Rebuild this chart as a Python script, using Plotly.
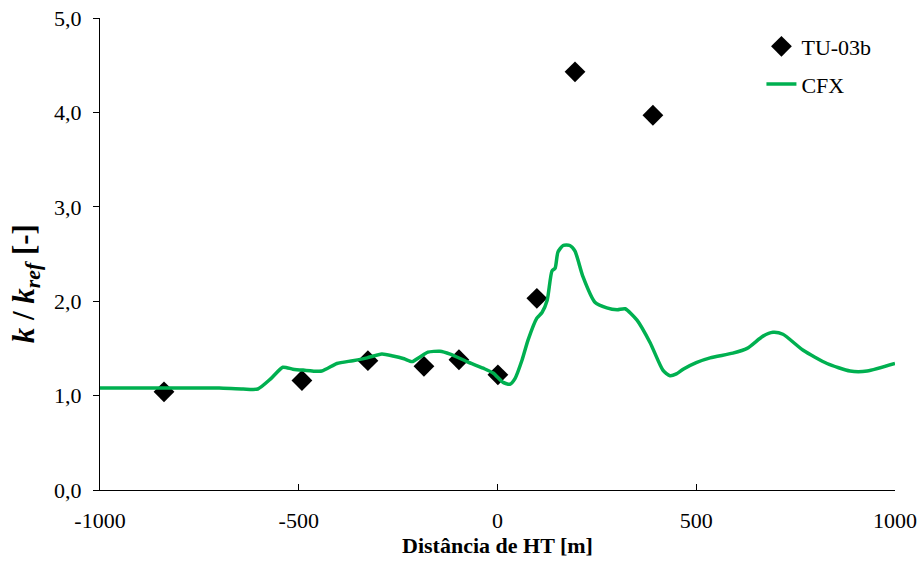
import plotly.graph_objects as go

# Measured turbulent kinetic energy ratio (TU-03b)
meas_x = [-839, -492, -326, -185, -97, 1, 99, 195, 391]
meas_y = [1.04, 1.16, 1.37, 1.31, 1.38, 1.22, 2.03, 4.43, 3.97]

# CFX simulated profile
cfx_x = [-1000, -900, -800, -741, -700, -640, -603, -570, -540, -515, -489, -442, -404,
         -364, -328, -291, -263, -235, -215, -195, -175, -145, -119, -77, -36, -11, 14,
         31, 44, 62, 77, 99, 112, 125, 137, 145, 152, 165, 182, 195, 215, 245, 275,
         301, 321, 351, 384, 416, 434, 450, 467, 500, 535, 592, 628, 668, 693, 718,
         769, 829, 887, 930, 1000]
cfx_y = [1.08, 1.08, 1.08, 1.08, 1.08, 1.07, 1.07, 1.18, 1.30, 1.28, 1.27, 1.26, 1.34,
         1.37, 1.40, 1.44, 1.42, 1.39, 1.36, 1.41, 1.46, 1.47, 1.44, 1.36, 1.29, 1.24,
         1.14, 1.12, 1.18, 1.38, 1.59, 1.82, 1.88, 2.01, 2.32, 2.35, 2.52, 2.59, 2.59,
         2.53, 2.26, 1.99, 1.93, 1.91, 1.92, 1.80, 1.56, 1.27, 1.21, 1.23, 1.28, 1.35,
         1.40, 1.45, 1.50, 1.63, 1.67, 1.65, 1.48, 1.34, 1.26, 1.26, 1.34]

x_ticks = [-1000, -500, 0, 500, 1000]
x_tick_text = ["-1000", "-500", "0", "500", "1000"]
y_ticks = [0, 1, 2, 3, 4, 5]

x_title = "<b>Distância de HT [m]</b>"
y_title = "<b><i>k</i> / <i>k</i><sub><i>ref</i></sub> [-]</b>"

serif = "Liberation Serif"

fig = go.Figure()
fig.add_trace(go.Scatter(
    x=meas_x, y=meas_y, mode="markers", name="TU-03b",
    marker=dict(symbol="diamond", size=16, color="black"),
    legendgroup="a",
))
fig.add_trace(go.Scatter(
    x=cfx_x, y=cfx_y, mode="lines", name="CFX",
    line=dict(color="#00B050", width=3.5, shape="spline", smoothing=0.6),
    legendgroup="b",
))

fig.update_layout(
    width=922, height=565,
    margin=dict(l=100, r=27, t=18, b=75),
    paper_bgcolor="white", plot_bgcolor="white",
    separators=",.",
    font=dict(family=serif, size=22, color="black"),
    showlegend=True,
    legend=dict(
        x=0.832, y=0.984, xanchor="left", yanchor="top",
        font=dict(family=serif, size=22, color="black"),
        bgcolor="rgba(0,0,0,0)", tracegroupgap=6, traceorder="grouped",
        itemwidth=30,
    ),
    xaxis=dict(
        range=[-1000, 1000], tickvals=x_ticks, ticktext=x_tick_text,
        showline=True, linecolor="black", linewidth=1,
        ticks="inside", ticklen=6, tickcolor="black",
        showgrid=False, zeroline=False, automargin=False,
        tickfont=dict(family=serif, size=22), ticklabelstandoff=11,
        title=dict(text=x_title, font=dict(family=serif, size=22), standoff=5),
    ),
    yaxis=dict(
        range=[0, 5], tickvals=y_ticks, tickformat=".1f",
        showline=True, linecolor="black", linewidth=1,
        ticks="outside", ticklen=6, tickcolor="black",
        showgrid=False, zeroline=False, automargin=False,
        tickfont=dict(family=serif, size=22), ticklabelstandoff=7,
    ),
    annotations=[dict(
        text=y_title, textangle=-90, showarrow=False,
        xref="paper", yref="paper", x=-0.093, y=0.436,
        xanchor="center", yanchor="middle",
        font=dict(family=serif, size=31, color="black"),
    )],
)

fig.write_html("out.html")
